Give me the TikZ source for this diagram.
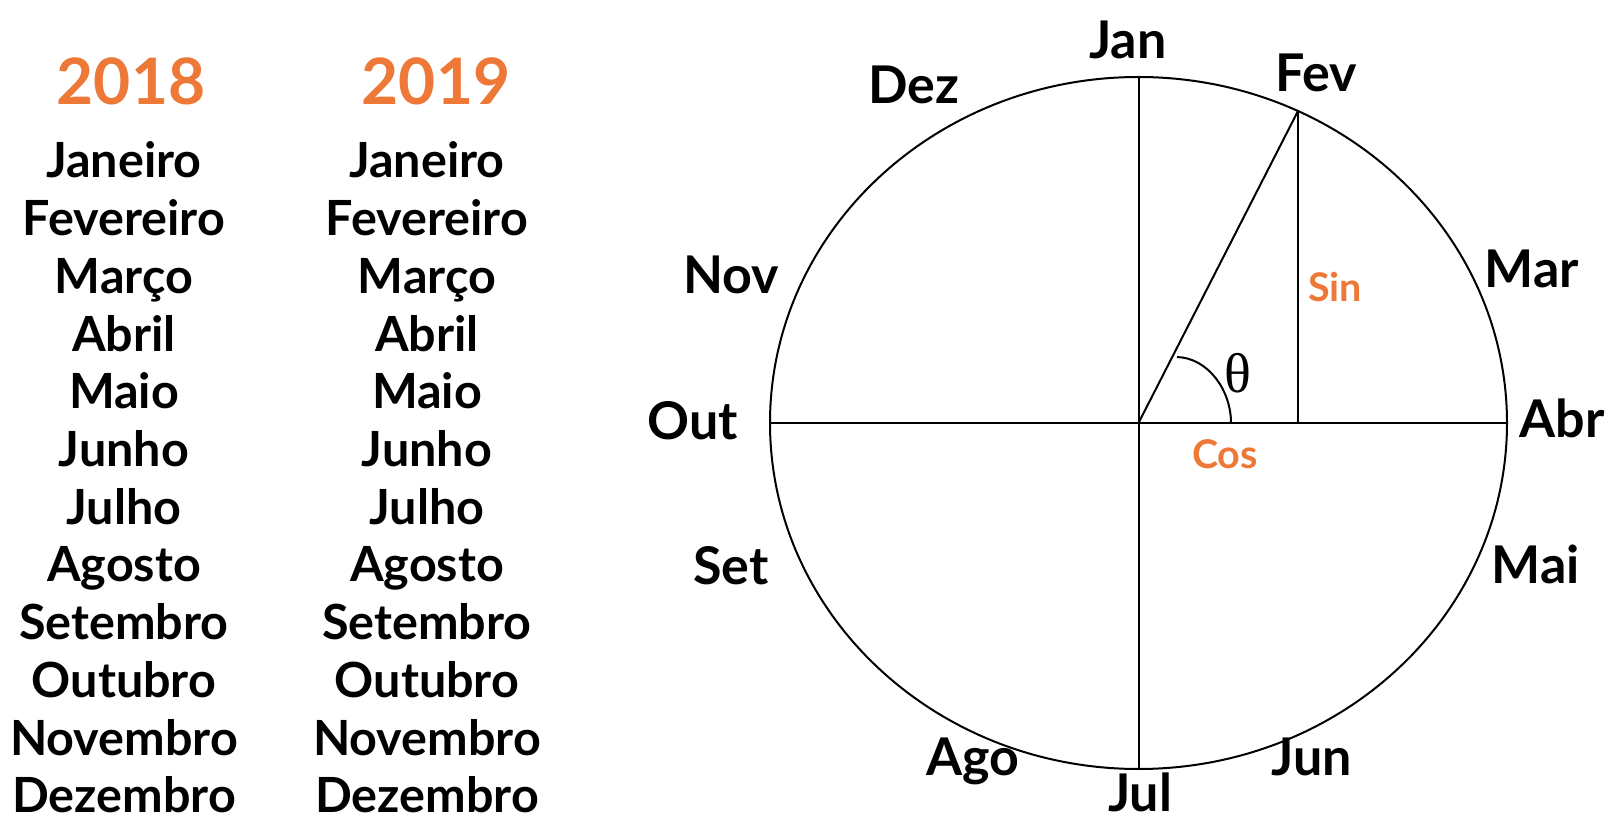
\documentclass[tikz,border=0pt]{standalone}
\usepackage{fontspec}
\setmainfont{Lato}
\newfontfamily\thetafont{Liberation Serif}
\definecolor{accent}{RGB}{238,120,56}
\tikzset{
  lbl/.style={anchor=base, inner sep=0pt, font=\bfseries\fontsize{48.5}{48.5}\selectfont},
  clbl/.style={anchor=base, inner sep=0pt, font=\bfseries\fontsize{52}{52}\selectfont},
  yearlbl/.style={anchor=base, inner sep=0pt, text=accent, font=\bfseries\fontsize{64}{64}\selectfont},
  trig/.style={anchor=base, inner sep=0pt, text=accent, font=\bfseries\fontsize{39.5}{39.5}\selectfont},
  geo/.style={line width=2pt, black}
}
\begin{document}
\begin{tikzpicture}[x=1pt,y=-1pt]
\useasboundingbox (0,0) rectangle (1610,834);
% years
\node[yearlbl] (y18) at (131,105) {2018};
\node[yearlbl] (y19) at (436,105) {2019};
% month lists
\foreach \m [count=\i from 0] in {Janeiro,Fevereiro,Março,Abril,Maio,Junho,Julho,Agosto,Setembro,Outubro,Novembro,Dezembro}{
  \node[lbl] (a\i) at (124,178+57.7*\i) {\m};
  \node[lbl] (b\i) at (427,178+57.7*\i) {\m};
}
% circle geometry
\coordinate (O) at (1138.5,423);
\coordinate (L) at (769,423);
\coordinate (R) at (1507,423);
\coordinate (T) at (1138.5,77);
\coordinate (B) at (1138.5,769);
\coordinate (P) at (1298,111);
\coordinate (F) at (1298,423);
\coordinate (A1) at (1177,357);
\coordinate (A2) at (1231,423);
\draw[geo] (O) ellipse [x radius=368.5, y radius=346];
\draw[geo] (L) -- (R);
\draw[geo] (T) -- (B);
\draw[geo] (O) -- (P);
\draw[geo] (P) -- (F);
\draw[geo] (A1) .. controls (1208,358) and (1231,390) .. (A2);
\node[anchor=base, inner sep=0pt, font=\thetafont\fontsize{56}{56}\selectfont] (th) at (1238,392) {θ};
\node[trig] (sin) at (1335,302) {Sin};
\node[trig] (cos) at (1225,468) {Cos};
% month labels around circle
\node[clbl] (jan) at (1128,59) {Jan};
\node[clbl] (fev) at (1316,92) {Fev};
\node[clbl] (mar) at (1532,288) {Mar};
\node[clbl] (abr) at (1562,437) {Abr};
\node[clbl] (mai) at (1536,583) {Mai};
\node[clbl] (jun) at (1312,775) {Jun};
\node[clbl] (jul) at (1140,811) {Jul};
\node[clbl] (ago) at (973,775) {Ago};
\node[clbl] (set) at (731,584) {Set};
\node[clbl] (out) at (693,439) {Out};
\node[clbl] (nov) at (731,294) {Nov};
\node[clbl] (dez) at (914,104) {Dez};
\end{tikzpicture}
\end{document}
